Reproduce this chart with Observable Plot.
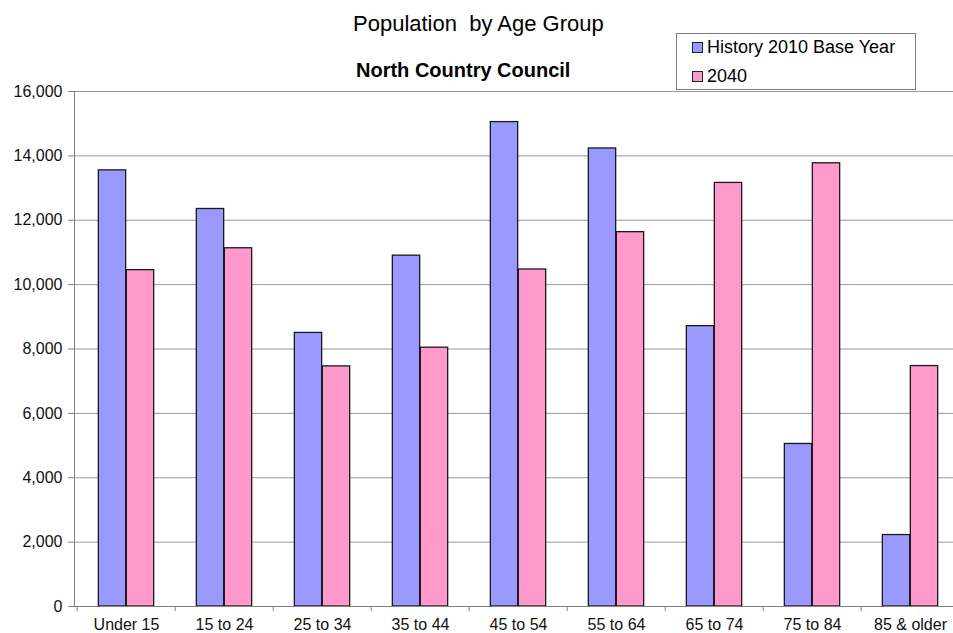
<!DOCTYPE html>
<html>
<head>
<meta charset="utf-8">
<script src="https://cdn.jsdelivr.net/npm/d3@7"></script>
<script src="https://cdn.jsdelivr.net/npm/@observablehq/plot@0.6"></script>
<style>
  html, body { margin: 0; padding: 0; background: #fff; overflow: hidden; }
  #wrap { position: relative; width: 953px; height: 633px; overflow: hidden; font-family: "Liberation Sans", Arial, sans-serif; color: #000; }
  .abs { position: absolute; white-space: pre; line-height: normal; }
  #title { left: 353px; top: 11px; font-size: 22px; }
  #subtitle { left: 356px; top: 59px; font-size: 20px; font-weight: bold; }
  #legend { left: 676px; top: 33px; width: 238px; height: 55px; border: 1px solid #808080; background: #fff; }
  .sw { position: absolute; width: 9px; height: 9px; border: 1px solid #222; }
  .lt { position: absolute; font-size: 18px; white-space: pre; line-height: normal; }
  #chart { position: absolute; left: 0; top: 0; }
</style>
</head>
<body>
<div id="wrap">
  <div id="chart"></div>
  <div class="abs" id="title"></div>
  <div class="abs" id="subtitle"></div>
  <div class="abs" id="legend"></div>
</div>
<script>
// ---- data ----
const titleText = "Population  by Age Group";
const subtitleText = "North Country Council";
const categories = ["Under 15", "15 to 24", "25 to 34", "35 to 44", "45 to 54", "55 to 64", "65 to 74", "75 to 84", "85 & older"];
const seriesNames = ["History 2010 Base Year", "2040"];
const history2010 = [13550, 12350, 8500, 10900, 15050, 14230, 8710, 5050, 2220];
const proj2040 = [10450, 11130, 7460, 8040, 10470, 11630, 13160, 13770, 7470];
const yTicks = [0, 2000, 4000, 6000, 8000, 10000, 12000, 14000, 16000];
const seriesColors = ["#9999ff", "#ff99cc"];

// ---- layout ----
const W = 963, H = 633, ML = 74, MR = 1, MT = 91, MB = 27;
const step = (W - ML - MR) / categories.length;
const barW = 28;
const gap = (step - 2 * barW) / 2;

const rows1 = categories.map((c, i) => ({cat: c, value: history2010[i]}));
const rows2 = categories.map((c, i) => ({cat: c, value: proj2040[i]}));

const plot = Plot.plot({
  width: W,
  height: H,
  marginLeft: ML,
  marginRight: MR,
  marginTop: MT,
  marginBottom: MB,
  style: {fontFamily: "Liberation Sans, Arial, sans-serif", fontSize: "16px", maxWidth: "none", background: "transparent", color: "#000"},
  x: {type: "band", domain: categories, padding: 0},
  y: {domain: [0, 16000]},
  marks: [
    Plot.gridY(yTicks, {stroke: "#999", strokeOpacity: 1, strokeWidth: 1}),
    Plot.barY(rows1, {x: "cat", y: "value", fill: seriesColors[0], stroke: "#1a1a1a", strokeWidth: 1.3, insetLeft: gap, insetRight: step - gap - barW}),
    Plot.barY(rows2, {x: "cat", y: "value", fill: seriesColors[1], stroke: "#1a1a1a", strokeWidth: 1.3, insetLeft: gap + barW, insetRight: gap}),
    Plot.frame({anchor: "left", stroke: "#808080"}),
    Plot.ruleY([0], {stroke: "#808080"}),
    Plot.ruleX(categories, {x: d => d, dx: -step / 2, y1: 0, y2: 0, insetBottom: -5, stroke: "#808080"}),
    Plot.axisY(yTicks, {tickFormat: d3.format(","), tickSize: 6, tickPadding: 6, fontSize: 16, stroke: "#808080", fill: "#111", label: null}),
    Plot.axisX({tickSize: 0, tickPadding: 12, fontSize: 16, fill: "#111", label: null})
  ]
});
document.getElementById("chart").appendChild(plot);

document.getElementById("title").textContent = titleText;
document.getElementById("subtitle").textContent = subtitleText;

const legend = document.getElementById("legend");
const swTops = [8, 37];
const txtTops = [3, 32];
seriesNames.forEach((name, i) => {
  const sw = document.createElement("div");
  sw.className = "sw";
  sw.style.left = "15px";
  sw.style.top = swTops[i] + "px";
  sw.style.background = seriesColors[i];
  legend.appendChild(sw);
  const t = document.createElement("div");
  t.className = "lt";
  t.style.left = "30px";
  t.style.top = txtTops[i] + "px";
  t.textContent = name;
  legend.appendChild(t);
});
</script>
</body>
</html>
